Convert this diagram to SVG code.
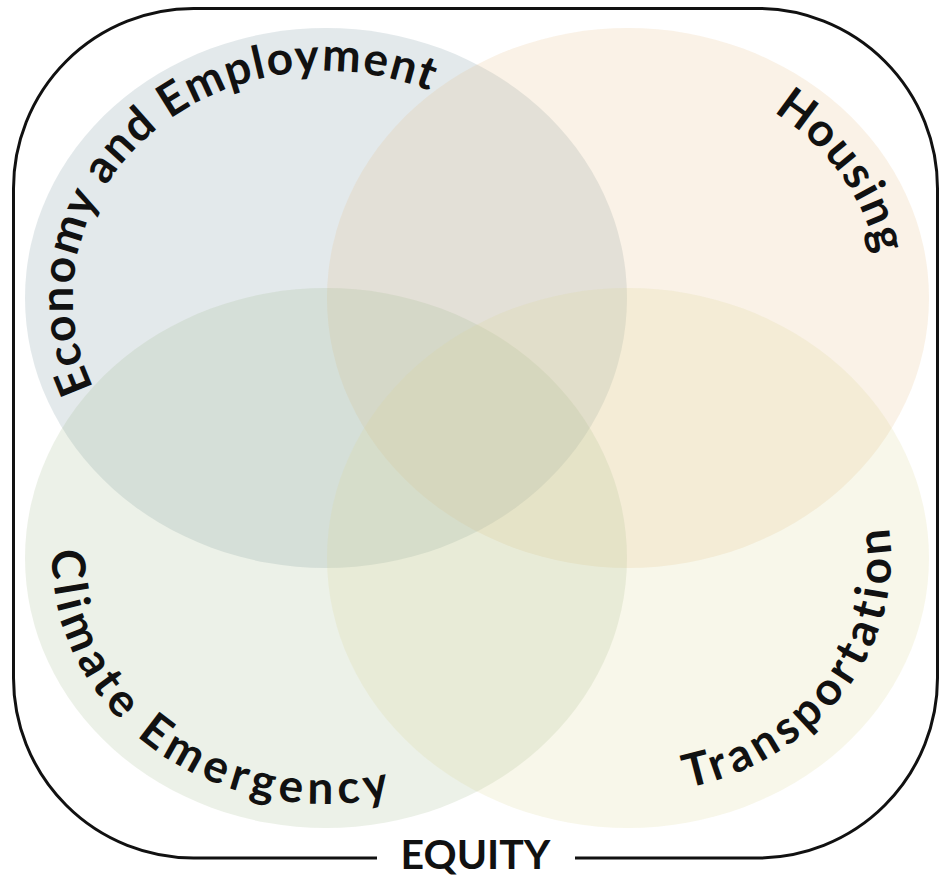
<svg xmlns="http://www.w3.org/2000/svg" width="940" height="875" viewBox="0 0 940 875">
  <style>
    .circ { fill-opacity: 0.2; }
    .lbl { font-family: "Lato", "Liberation Sans", sans-serif; font-weight: 700; font-size: 46px; fill: #111; }
    .frame { fill: none; stroke: #111; stroke-width: 3; }
  </style>
  <defs>
    <path id="pEcon" d="M93.6,387.8 A253,227 0 0 1 519.8,152.1"/>
    <path id="pHous" d="M773.1,112 A253,227 0 0 1 847.1,411.5"/>
    <path id="pClim" d="M52.2,549.8 A274,246 0 0 0 563.3,681"/>
    <path id="pTran" d="M687.2,788 A263,236 0 0 0 759.5,353.6"/>
  </defs>
  <rect width="940" height="875" fill="#fff"/>
  <g id="economy">
    <ellipse class="circ" cx="326" cy="298" rx="301" ry="270" fill="#739199"/>
  </g>
  <g id="housing">
    <ellipse class="circ" cx="628" cy="298" rx="301" ry="270" fill="#e6be87"/>
  </g>
  <g id="climate">
    <ellipse class="circ" cx="326" cy="558" rx="301" ry="270" fill="#a0b98c"/>
  </g>
  <g id="transportation">
    <ellipse class="circ" cx="628" cy="558" rx="301" ry="270" fill="#dcd796"/>
  </g>
  <g id="labels">
    <text class="lbl" letter-spacing="1.6"><textPath href="#pEcon">Economy and Employment</textPath></text>
    <text class="lbl" letter-spacing="1.8"><textPath href="#pHous">Housing</textPath></text>
    <text class="lbl" letter-spacing="5.4"><textPath href="#pClim">Climate Emergency</textPath></text>
    <text class="lbl" letter-spacing="4.8"><textPath href="#pTran">Transportation</textPath></text>
  </g>
  <g id="equity">
    <path class="frame" d="M377,858 H193.5 A180,180 0 0 1 13.5,678 V188.5 A180,180 0 0 1 193.5,8.5 H757.5 A180,180 0 0 1 937.5,188.5 V678 A180,180 0 0 1 757.5,858 H575"/>
    <text x="475.5" y="869" text-anchor="middle" font-family="Lato, 'Liberation Sans', sans-serif" font-weight="700" font-size="41" fill="#111">EQUITY</text>
  </g>
</svg>
